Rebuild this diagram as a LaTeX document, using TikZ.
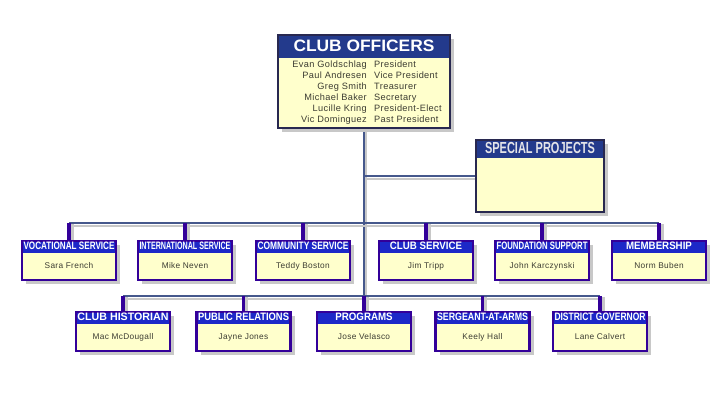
\documentclass[tikz,border=0pt]{standalone}
\usepackage{fontspec}
\setmainfont{Liberation Sans}
\newfontfamily\spacedfont[LetterSpace=4]{Liberation Sans}
\usepackage{graphicx}
\usetikzlibrary{shadows,calc,backgrounds}
\definecolor{bordpurple}{RGB}{51,0,153}
\definecolor{bandblue}{RGB}{28,40,200}
\definecolor{navyband}{RGB}{35,58,140}
\definecolor{busgray}{RGB}{70,88,140}
\definecolor{shadowgray}{RGB}{200,200,200}
\definecolor{paleyellow}{RGB}{255,255,204}
\definecolor{nametext}{RGB}{60,60,50}
\definecolor{darkframe}{RGB}{40,40,80}
\definecolor{sptext}{RGB}{228,228,232}
\newlength\fitlen
\newcommand\fitw[2]{\settowidth\fitlen{#2}\fitlen=0.9\fitlen\ifdim\fitlen>#1\relax\fitlen=#1\relax\fi\resizebox{\fitlen}{\height}{#2}}
\tikzset{
 boxshadow/.style={drop shadow={shadow xshift=4pt, shadow yshift=-4pt, fill=shadowgray, opacity=1}},
 unitbox/.style={draw=bordpurple, line width=2.2pt, fill=paleyellow, minimum width=94pt, minimum height=39pt, inner sep=0pt, anchor=north, boxshadow,
   path picture={\fill[bandblue] (path picture bounding box.north west) rectangle ([yshift=-12pt]path picture bounding box.north east);}},
 unittitle/.style={text=white, font=\bfseries\fontsize{10.8}{12}\selectfont, inner sep=0pt, text height=7.7pt, text depth=0pt},
 unitname/.style={text=nametext, font=\spacedfont\fontsize{8.3}{10}\selectfont, inner sep=0pt, text height=6pt, text depth=1.6pt},
 offbox/.style={draw=darkframe, line width=1.6pt, fill=paleyellow, minimum width=172pt, minimum height=93pt, inner sep=0pt, anchor=north, boxshadow,
   path picture={\fill[navyband] (path picture bounding box.north west) rectangle ([yshift=-23pt]path picture bounding box.north east);}},
 spbox/.style={draw=darkframe, line width=1.6pt, fill=paleyellow, minimum width=128pt, minimum height=72pt, inner sep=0pt, anchor=north, boxshadow,
   path picture={\fill[navyband] (path picture bounding box.north west) rectangle ([yshift=-18pt]path picture bounding box.north east);}},
 offtext/.style={text=nametext, font=\spacedfont\fontsize{9.2}{11}\selectfont, inner sep=0pt},
 bus/.style={draw=busgray, line width=2.6pt, preaction={draw=shadowgray, line width=2.6pt, transform canvas={shift={(2pt,-3pt)}}}},
 stub/.style={draw=bordpurple, line width=3.2pt, preaction={draw=shadowgray, line width=3pt, transform canvas={shift={(3pt,-1pt)}}}},
}
\newcommand\unitnode[5]{%
 \node[unitbox] (#1) at (#2,#3) {};
 \node[unittitle] (#1-t) at ([yshift=-6pt]#1.north) {\fitw{91pt}{#4}};
 \node[unitname] (#1-n) at ([yshift=-6pt]#1.center) {#5};
}
\begin{document}
\begin{tikzpicture}[x=1pt,y=-1pt]
\useasboundingbox (0,0) rectangle (720,400);
% officers
\node[offbox] (off) at (364,34) {};
\node[text=white, font=\bfseries\fontsize{16.5}{18}\selectfont, inner sep=0pt, text height=11.8pt, text depth=0pt] (off-t) at ([yshift=-11.5pt]off.north) {\resizebox{141pt}{\height}{CLUB OFFICERS}};
\foreach \nm/\rl [count=\i] in {Evan Goldschlag/President, Paul Andresen/Vice President, Greg Smith/Treasurer, Michael Baker/Secretary, Lucille Kring/President-Elect, Vic Dominguez/Past President}{
 \node[offtext, anchor=base east] (on\i) at (367, 56.5+11*\i) {\nm};
 \node[offtext, anchor=base west] (or\i) at (374, 56.5+11*\i) {\rl};
}
% special projects
\node[spbox] (sp) at (540,139) {};
\node[text=sptext, font=\bfseries\fontsize{16}{17}\selectfont, inner sep=0pt, text height=11.4pt, text depth=0pt] (sp-t) at ([yshift=-9pt]sp.north) {\resizebox{110pt}{\height}{SPECIAL PROJECTS}};
% row 1
\unitnode{vs}{69}{240}{VOCATIONAL SERVICE}{Sara French}
\unitnode{is}{185}{240}{INTERNATIONAL SERVICE}{Mike Neven}
\unitnode{cs}{303}{240}{COMMUNITY SERVICE}{Teddy Boston}
\unitnode{cls}{426}{240}{CLUB SERVICE}{Jim Tripp}
\unitnode{fs}{542}{240}{FOUNDATION SUPPORT}{John Karczynski}
\unitnode{mb}{659}{240}{MEMBERSHIP}{Norm Buben}
% row 2
\unitnode{ch}{123}{311}{CLUB HISTORIAN}{Mac McDougall}
\unitnode{pr}{243.5}{311}{PUBLIC RELATIONS}{Jayne Jones}
\unitnode{pg}{364}{311}{PROGRAMS}{Jose Velasco}
\unitnode{sa}{482.5}{311}{SERGEANT-AT-ARMS}{Keely Hall}
\unitnode{dg}{600}{311}{DISTRICT GOVERNOR}{Lane Calvert}
% connectors
\coordinate (J1) at (364,223);
\coordinate (J2) at (364,296);
\begin{scope}[on background layer]
\fill[white] (0,0) rectangle (720,400);
\draw[bus] (off.south) -- (J2);
\draw[bus] (off.south |- sp.west) -- (sp.west);
\draw[bus] (vs.north |- J1) -- (mb.north |- J1);
\draw[bus] (ch.north |- J2) -- (dg.north |- J2);
\foreach \b in {vs,is,cs,cls,fs,mb}{\draw[stub] (\b.north |- J1) -- (\b.north);}
\foreach \b in {ch,pr,pg,sa,dg}{\draw[stub] (\b.north |- J2) -- (\b.north);}
\end{scope}
\end{tikzpicture}
\end{document}
